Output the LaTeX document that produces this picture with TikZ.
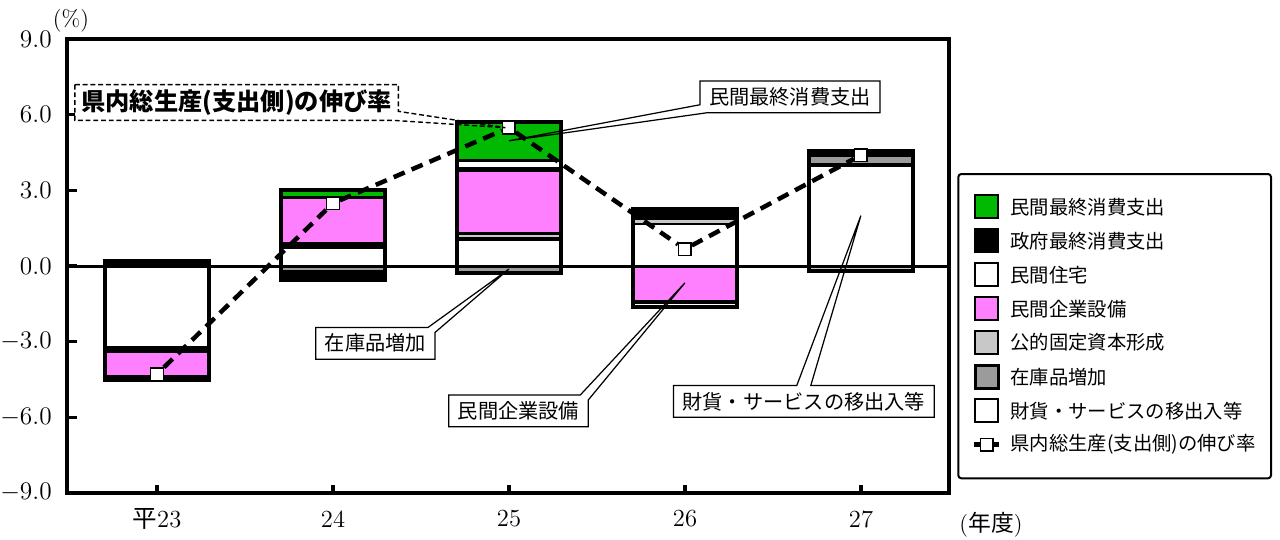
\documentclass[tikz,border=0pt]{standalone}
\usepackage{fontspec}
\newfontfamily\jp{Noto Sans CJK JP}
\usetikzlibrary{positioning,calc}
\definecolor{pgreen}{RGB}{0,185,0}
\definecolor{ppink}{RGB}{255,128,255}
\definecolor{lgray}{RGB}{200,200,200}
\definecolor{stockgray}{RGB}{155,155,155}
\tikzset{
    %Define styles for bar segments
    sgreen/.style={fill=pgreen},
    sblack/.style={fill=black},
    swhite/.style={fill=white},
    spink/.style={fill=ppink},
    sgray/.style={fill=lgray},
    sstock/.style={fill=stockgray},
    barframe/.style={draw=black, line width=0.08cm},
    axisline/.style={draw=black, line width=0.065cm},
    ticklab/.style={inner sep=0pt, font=\fontsize{14}{16}\selectfont},
    %Define style for the growth rate line
    gdpline/.style={line width=0.09cm, dash pattern=on 0.24cm off 0.15cm},
    gdpmark/.style={
           rectangle,
           draw=black, fill=white,
           line width=0.8pt,
           minimum size=0.25cm,
           inner sep=0pt},
    %Define style for callouts
    callout/.style={
           rectangle,
           fill=white,
           inner xsep=5pt, inner ysep=0pt,
           minimum height=0.62cm,
           font=\jp\fontsize{11.5}{13}\selectfont},
    calloutline/.style={draw=black, line width=0.7pt},
    dcallout/.style={
           rectangle,
           fill=white,
           inner xsep=3.5pt, inner ysep=0pt,
           minimum height=0.7cm,
           font=\jp\bfseries\fontsize{13.8}{16}\selectfont},
    dcalloutline/.style={draw=black, line width=0.8pt, dash pattern=on 2.8pt off 1.6pt},
    %Define style for legend
    swatch/.style={
           rectangle,
           draw=black, line width=1.1pt,
           minimum size=0.46cm,
           inner sep=0pt, outer sep=0pt},
    legtxt/.style={inner sep=0pt, font=\jp\fontsize{11}{13}\selectfont}
}
\begin{document}
\begin{tikzpicture}[x=0.02cm, y=0.02cm]
\useasboundingbox (0,0) rectangle (1280,539);
% frame, ticks and tick labels
\draw[axisline] (67,46) rectangle (949,500);
\foreach \v in {-9,-6,...,9}{
  \draw[axisline] (67,{273+25.2*\v}) -- ++(10,0);
  \node[ticklab, anchor=east] at (52,{273+25.2*\v}) {\pgfmathprintnumber[fixed,fixed zerofill,precision=1]{\v}};
}
\foreach \i/\lab in {0/{\jp 平}23,1/24,2/25,3/26,4/27}{
  \draw[axisline] (157+176*\i,46) -- ++(0,8);
  \node[ticklab] (x\i) at (157+176*\i,20) {\lab};
}
\node[font=\fontsize{13}{15}\selectfont] (pct) at (71,518) {(\%)};
\node[font=\fontsize{13}{15}\selectfont] (nendo) at (991,14) {({\jp 年度})};
% bars
\begin{scope}[shift={(157,273)}, x=3.52cm, y=0.504cm]
\foreach \x/\lo/\hi/\s in {
  0/0.19/-0.03/sblack, 0/-0.03/-3.16/swhite, 0/-3.16/-3.46/sblack,
  0/-3.46/-4.33/spink, 0/-4.33/-4.51/sblack,
  1/3.0/2.78/sgreen, 1/2.78/2.65/sblack, 1/2.65/0.94/spink, 1/0.94/0.67/sblack,
  1/0.67/0/swhite, 1/0/-0.16/sstock, 1/-0.16/-0.54/sblack,
  2/5.71/4.23/sgreen, 2/4.23/4.14/sblack, 2/4.14/3.92/swhite, 2/3.92/3.74/sblack,
  2/3.74/1.36/spink, 2/1.36/1.23/sblack, 2/1.23/1.17/sgray, 2/1.17/1.0/sblack,
  2/1.0/0/swhite, 2/0/-0.19/sstock, 2/-0.19/-0.28/sblack,
  3/2.27/1.83/sblack, 3/1.83/1.72/sgray, 3/1.72/1.63/sblack, 3/1.63/0/swhite,
  3/0/-1.35/spink, 3/-1.35/-1.49/sblack, 3/-1.49/-1.56/swhite, 3/-1.56/-1.63/sblack,
  4/4.55/4.34/sblack, 4/4.34/4.08/sstock, 4/4.08/3.94/sblack, 4/3.94/0/swhite,
  4/0/-0.16/sgray, 4/-0.16/-0.21/sblack}
  \path[\s] (\x-0.297,\lo) rectangle (\x+0.297,\hi);
\foreach \x/\lo/\hi in {0/0.19/-4.51, 1/3.0/-0.54, 2/5.71/-0.28, 3/2.27/-1.63, 4/4.55/-0.21}
  \draw[barframe] (\x-0.297,\lo) rectangle (\x+0.297,\hi);
% callout tips
\coordinate (tMin) at (2,4.97);
\coordinate (tZaiko) at (2,-0.12);
\coordinate (tKigyo) at (3,-0.67);
\coordinate (tZaika) at (4,2.0);
\coordinate (tGdp) at (1.98,5.49);
% growth rate markers
\node[gdpmark] (g0) at (0,-4.29) {};
\node[gdpmark] (g1) at (1,2.49) {};
\node[gdpmark] (g2) at (2,5.49) {};
\node[gdpmark] (g3) at (3,0.67) {};
\node[gdpmark] (g4) at (4,4.40) {};
\end{scope}
\draw[line width=0.06cm] (67,273) -- (949,273);
% callouts
\node[callout, anchor=west] (cMin) at (700,442.1) {民間最終消費支出};
\draw[calloutline] (cMin.north west) -- ($(cMin.south west)+(0,8)$) -- (tMin)
  -- ($(cMin.south west)+(7,0)$) -- (cMin.south east) -- (cMin.north east) -- cycle;
\node[callout, anchor=east] (cZaiko) at (435,195.7) {在庫品増加};
\draw[calloutline] (cZaiko.north west) -- ($(cZaiko.north east)+(-7,0)$) -- (tZaiko)
  -- ($(cZaiko.north east)+(0,-5)$) -- (cZaiko.south east) -- (cZaiko.south west) -- cycle;
\node[callout, anchor=east] (cKigyo) at (588.3,128.2) {民間企業設備};
\draw[calloutline] (cKigyo.north west) -- ($(cKigyo.north east)+(-8,0)$) -- (tKigyo)
  -- ($(cKigyo.north east)+(0,-5)$) -- (cKigyo.south east) -- (cKigyo.south west) -- cycle;
\node[callout] (cZaika) at (803.8,137.7) {財貨・サービスの移出入等};
\draw[calloutline] (cZaika.north west) -- ($(cZaika.north)+(-7,0)$) -- (tZaika)
  -- ($(cZaika.north)+(7,0)$) -- (cZaika.north east) -- (cZaika.south east) -- (cZaika.south west) -- cycle;
\node[dcallout, anchor=east] (cGdp) at (398.3,436.5) {県内総生産(支出側)の伸び率};
\draw[dcalloutline] (cGdp.north west) -- (cGdp.north east) -- ($(cGdp.south east)+(0,9)$) -- (tGdp)
  -- ($(cGdp.south east)+(-5,0)$) -- (cGdp.south west) -- cycle;
% growth rate line
\draw[gdpline] (g0) -- (g1);
\draw[gdpline] (g1) -- (g2);
\draw[gdpline] (g2) -- (g3);
\draw[gdpline] (g3) -- (g4);
% legend
\draw[line width=0.04cm, rounded corners=0.06cm] (958.3,60.7) rectangle (1271,365);
\node[swatch, sgreen] (l1) at (986.7,332.3) {};
\node[legtxt, right=0.24cm of l1] (t1) {民間最終消費支出};
\node[swatch, sblack, below=0.22cm of l1] (l2) {};
\node[legtxt, right=0.24cm of l2] (t2) {政府最終消費支出};
\node[swatch, swhite, below=0.22cm of l2] (l3) {};
\node[legtxt, right=0.24cm of l3] (t3) {民間住宅};
\node[swatch, spink, below=0.22cm of l3] (l4) {};
\node[legtxt, right=0.24cm of l4] (t4) {民間企業設備};
\node[swatch, sgray, below=0.22cm of l4] (l5) {};
\node[legtxt, right=0.24cm of l5] (t5) {公的固定資本形成};
\node[swatch, sstock, line width=1.6pt, below=0.22cm of l5] (l6) {};
\node[legtxt, right=0.24cm of l6] (t6) {在庫品増加};
\node[swatch, swhite, below=0.22cm of l6] (l7) {};
\node[legtxt, right=0.24cm of l7] (t7) {財貨・サービスの移出入等};
\coordinate[below=0.68cm of l7.center] (l8);
\draw[line width=0.09cm] ($(l8)+(-12.5,0)$) -- ($(l8)+(12.5,0)$);
\node[gdpmark] (m8) at (l8) {};
\node[legtxt, anchor=west] (t8) at (t7.west |- l8) {県内総生産(支出側)の伸び率};
\end{tikzpicture}
\end{document}
